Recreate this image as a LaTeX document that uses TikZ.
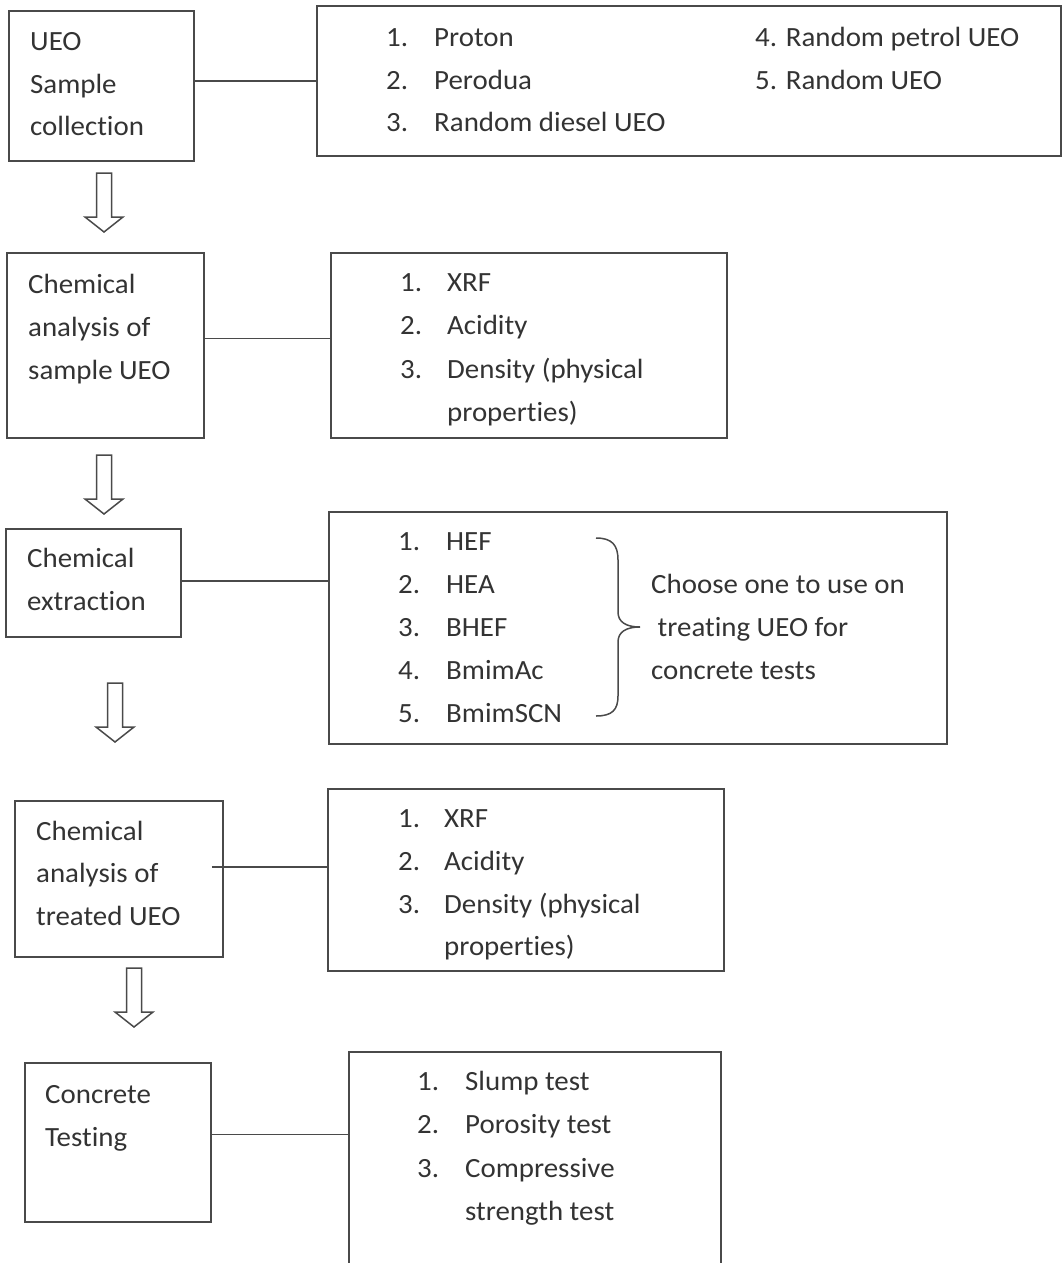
\documentclass[tikz,border=0pt]{standalone}
\usepackage{fontspec}
\setmainfont[FakeStretch=1.04,RawFeature={-liga;-calt;-dlig;-clig}]{Carlito}
\definecolor{ink}{HTML}{333333}
\definecolor{linec}{HTML}{4A4A4A}
\begin{document}
\begin{tikzpicture}[x=1pt,y=-1pt,
  box/.style={draw=linec,line width=1.8pt,rectangle,inner sep=0pt,anchor=north west},
  conn/.style={draw=linec,line width=1.7pt},
  txt/.style={anchor=base west,inner sep=0pt,text=ink,font=\fontsize{27.8}{32}\selectfont},
  harrow/.style={draw=linec,line width=1.5pt,fill=white,line join=miter}]
\useasboundingbox (0,0) rectangle (1062,1263);
\fill[white] (0,0) rectangle (1062,1263);
\newcommand{\harr}[2]{% center x, top y
  \draw[harrow] (#1-7.5,#2) -- (#1+7.5,#2) -- (#1+7.5,#2+44) -- (#1+19,#2+44) -- (#1,#2+59) -- (#1-19,#2+44) -- (#1-7.5,#2+44) -- cycle;}
% ---------- row 1
\node[box,minimum width=185,minimum height=150] (b1) at (8,10) {};
\node[box,minimum width=744,minimum height=150] (r1) at (316,5) {};
\draw[conn] (b1.east) ++(0,-5) coordinate (c1) -- (c1 -| r1.west);
\node[txt] (t11) at (30,51) {UEO};
\node[txt] (t12) at (30,93) {Sample};
\node[txt] (t13) at (30,135) {collection};
\node[txt] (n11) at (386,47) {1.};\node[txt] (i11) at (434,47) {Proton};
\node[txt] (n12) at (386,89) {2.};\node[txt] (i12) at (434,89) {Perodua};
\node[txt] (n13) at (386,131) {3.};\node[txt] (i13) at (434,131) {Random diesel UEO};
\node[txt] (i14) at (755,47) {4. Random petrol UEO};
\node[txt] (i15) at (755,89) {5. Random UEO};
\harr{104}{173}
% ---------- row 2
\node[box,minimum width=197,minimum height=185] (b2) at (6,252) {};
\node[box,minimum width=396,minimum height=185] (r2) at (330,252) {};
\draw[conn] (b2.east) ++(0,-7) coordinate (c2) -- (c2 -| r2.west);
\node[txt] (t21) at (28,293) {Chemical};
\node[txt] (t22) at (28,336) {analysis of};
\node[txt] (t23) at (28,379) {sample UEO};
\node[txt] (n21) at (400,291) {1.};\node[txt] (i21) at (447,291) {XRF};
\node[txt] (n22) at (400,334) {2.};\node[txt] (i22) at (447,334) {Acidity};
\node[txt] (n23) at (400,378) {3.};\node[txt] (i23) at (447,378) {Density (physical};
\node[txt] (i24) at (447,421) {properties)};
\harr{104}{455}
% ---------- row 3
\node[box,minimum width=175,minimum height=108] (b3) at (5,528) {};
\node[box,minimum width=618,minimum height=232] (r3) at (328,511) {};
\draw[conn] (b3.east) ++(0,-2) coordinate (c3) -- (c3 -| r3.west);
\node[txt] (t31) at (27,567) {Chemical};
\node[txt] (t32) at (27,610) {extraction};
\node[txt] (n31) at (398,550) {1.};\node[txt] (i31) at (446,550) {HEF};
\node[txt] (n32) at (398,593) {2.};\node[txt] (i32) at (446,593) {HEA};
\node[txt] (n33) at (398,636) {3.};\node[txt] (i33) at (446,636) {BHEF};
\node[txt] (n34) at (398,679) {4.};\node[txt] (i34) at (446,679) {BmimAc};
\node[txt] (n35) at (398,722) {5.};\node[txt] (i35) at (446,722) {BmimSCN};
\draw[draw=linec,line width=1.5pt] (596,538) .. controls (612,538) and (618,545) .. (618,560) -- (618,612) .. controls (618,622) and (626,627) .. (640,627) .. controls (626,627) and (618,632) .. (618,642) -- (618,696) .. controls (618,710) and (612,716) .. (596,716);
\node[txt] (k1) at (651,593) {Choose one to use on};
\node[txt] (k2) at (651,636) {\ treating UEO for};
\node[txt] (k3) at (651,679) {concrete tests};
\harr{115}{683}
% ---------- row 4
\node[box,minimum width=208,minimum height=156] (b4) at (14,800) {};
\node[box,minimum width=396,minimum height=182] (r4) at (327,788) {};
\draw[conn] (b4.east) ++(-12,-12) coordinate (c4) -- (c4 -| r4.west);
\node[txt] (t41) at (36,840) {Chemical};
\node[txt] (t42) at (36,882) {analysis of};
\node[txt] (t43) at (36,925) {treated UEO};
\node[txt] (n41) at (398,827) {1.};\node[txt] (i41) at (444,827) {XRF};
\node[txt] (n42) at (398,870) {2.};\node[txt] (i42) at (444,870) {Acidity};
\node[txt] (n43) at (398,913) {3.};\node[txt] (i43) at (444,913) {Density (physical};
\node[txt] (i44) at (444,955) {properties)};
\harr{134}{968}
% ---------- row 5
\node[box,minimum width=186,minimum height=159] (b5) at (24,1062) {};
\node[box,minimum width=372,minimum height=213] (r5) at (348,1051) {};
\draw[conn] (b5.east) ++(0,-8) coordinate (c5) -- (c5 -| r5.west);
\node[txt] (t51) at (45,1103) {Concrete};
\node[txt] (t52) at (45,1146) {Testing};
\node[txt] (n51) at (417,1090) {1.};\node[txt] (i51) at (465,1090) {Slump test};
\node[txt] (n52) at (417,1133) {2.};\node[txt] (i52) at (465,1133) {Porosity test};
\node[txt] (n53) at (417,1177) {3.};\node[txt] (i53) at (465,1177) {Compressive};
\node[txt] (i54) at (465,1220) {strength test};
\end{tikzpicture}
\end{document}
